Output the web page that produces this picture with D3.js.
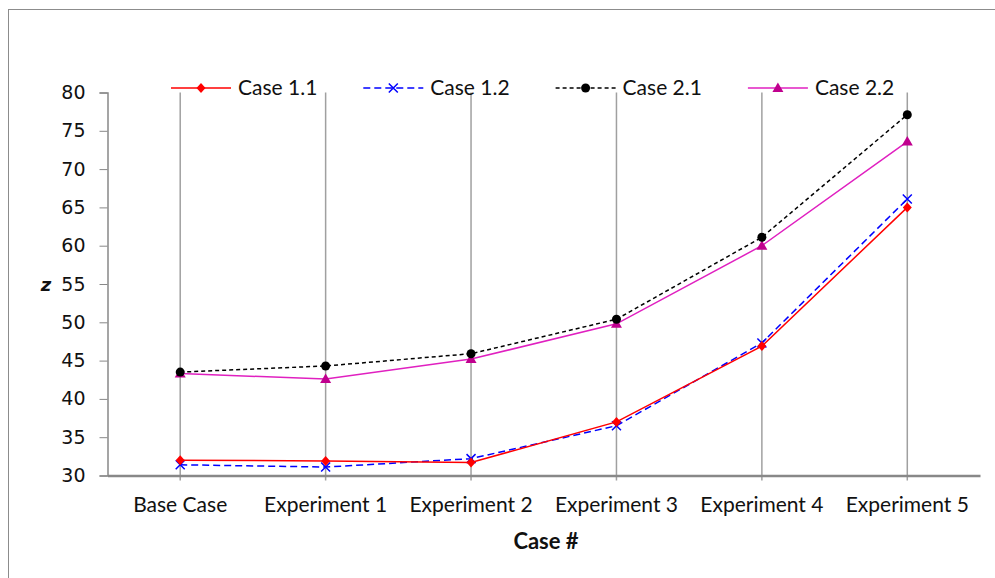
<!DOCTYPE html>
<html><head><meta charset="utf-8">
<script src="https://cdn.jsdelivr.net/npm/d3@7/dist/d3.min.js"></script>
<style>body{margin:0;background:#fff}svg{display:block}</style>
</head><body><svg id="c" width="995" height="578"></svg>
<script>
const categories = ["Base Case","Experiment 1","Experiment 2","Experiment 3","Experiment 4","Experiment 5"];
const case11 = [32.0, 31.9, 31.7, 37.0, 46.9, 65.0];
const case12 = [31.4, 31.1, 32.2, 36.5, 47.3, 66.1];
const case21 = [43.5, 44.3, 45.9, 50.4, 61.1, 77.1];
const case22 = [43.3, 42.6, 45.2, 49.8, 60.0, 73.6];
const yTicks = [30,35,40,45,50,55,60,65,70,75,80];
const seriesNames = ["Case 1.1","Case 1.2","Case 2.1","Case 2.2"];

const series = [
  {name: seriesNames[0], values: case11, color: "#ff0000", dash: null, marker: "diamond"},
  {name: seriesNames[1], values: case12, color: "#0000ff", dash: "7,4", marker: "x"},
  {name: seriesNames[2], values: case21, color: "#000000", dash: "4,3", marker: "circle"},
  {name: seriesNames[3], values: case22, color: "#e020c0", dash: null, marker: "triangle", mcolor:"#c0008e"}
];

const svg = d3.select("#c");
svg.append("rect").attr("x",8.5).attr("y",9.5).attr("width",1000).attr("height",600)
  .attr("fill","#fff").attr("stroke","#8c8c8c").attr("stroke-width",1);

const L = 107.5, R = 980, T = 92.5, B = 475.5;
const x = d3.scaleBand().domain(categories).range([L,R]).padding(0);
const xc = d => x(d) + x.bandwidth()/2;
const y = d3.scaleLinear().domain([30,80]).range([B,T]);

// vertical gridlines at category centers
svg.append("g").selectAll("line").data(categories).join("line")
  .attr("x1",xc).attr("x2",xc).attr("y1",T).attr("y2",B+5)
  .attr("stroke","#a0a0a0").attr("stroke-width",1.5);

// y axis
const yAxis = d3.axisLeft(y).tickValues(yTicks).tickSize(8).tickPadding(14);
const gy = svg.append("g").attr("transform",`translate(${L},0)`).call(yAxis);
gy.select(".domain").attr("stroke","#888").attr("stroke-width",1.5);
gy.selectAll(".tick line").attr("stroke","#888").attr("stroke-width",1);
gy.selectAll(".tick text").attr("font-family","DejaVu Sans").attr("font-size",19).attr("fill","#111");

// x axis
const xAxis = d3.axisBottom(x).tickSize(0).tickPadding(22);
const gx = svg.append("g").attr("transform",`translate(0,${B})`).call(xAxis);
gx.select(".domain").attr("stroke","#888").attr("stroke-width",2.5);
gx.selectAll(".tick text").attr("font-family","Lato").attr("font-size",21).attr("fill","#111");

// lines
const line = d3.line().x((d,i)=>xc(categories[i])).y(d=>y(d));
function drawMarker(g, type, cx, cy, color){
  if(type==="diamond"){
    g.append("path").attr("d",`M${cx},${cy-5}L${cx+4.5},${cy}L${cx},${cy+5}L${cx-4.5},${cy}Z`).attr("fill",color);
  } else if(type==="x"){
    g.append("path").attr("d",`M${cx-4.5},${cy-4.5}L${cx+4.5},${cy+4.5}M${cx-4.5},${cy+4.5}L${cx+4.5},${cy-4.5}`)
      .attr("stroke",color).attr("stroke-width",1.5).attr("fill","none");
  } else if(type==="circle"){
    g.append("circle").attr("cx",cx).attr("cy",cy).attr("r",4.5).attr("fill",color);
  } else if(type==="triangle"){
    g.append("path").attr("d",`M${cx},${cy-5.5}L${cx+5.5},${cy+4}L${cx-5.5},${cy+4}Z`).attr("fill",color);
  }
}
const order = [3,2,1,0];
order.forEach(k=>{
  const s = series[k];
  const g = svg.append("g");
  g.append("path").attr("d",line(s.values)).attr("fill","none").attr("stroke",s.color)
    .attr("stroke-width",1.5).attr("stroke-dasharray",s.dash);
  s.values.forEach((v,i)=>drawMarker(g,s.marker,xc(categories[i]),y(v),s.mcolor||s.color));
});

// legend
const lg = svg.append("g");
series.forEach((s,i)=>{
  const lx = 171 + i*192.3, ly = 88;
  lg.append("line").attr("x1",lx).attr("x2",lx+60).attr("y1",ly).attr("y2",ly)
    .attr("stroke",s.color).attr("stroke-width",1.5).attr("stroke-dasharray",s.dash);
  drawMarker(lg,s.marker,lx+30,ly,s.mcolor||s.color);
  lg.append("text").attr("x",lx+67).attr("y",ly+7).text(s.name)
    .attr("font-family","Lato").attr("font-size",21).attr("fill","#111");
});

// axis titles
svg.append("text").attr("x",546).attr("y",549).attr("text-anchor","middle")
  .attr("font-family","Lato").attr("font-weight","bold").attr("font-size",22).attr("fill","#111").text("Case #");
svg.append("text").attr("x",46).attr("y",291).attr("text-anchor","middle")
  .attr("font-family","DejaVu Sans").attr("font-weight","bold").attr("font-style","italic").attr("font-size",18).attr("fill","#111").text("z");
</script></body></html>
